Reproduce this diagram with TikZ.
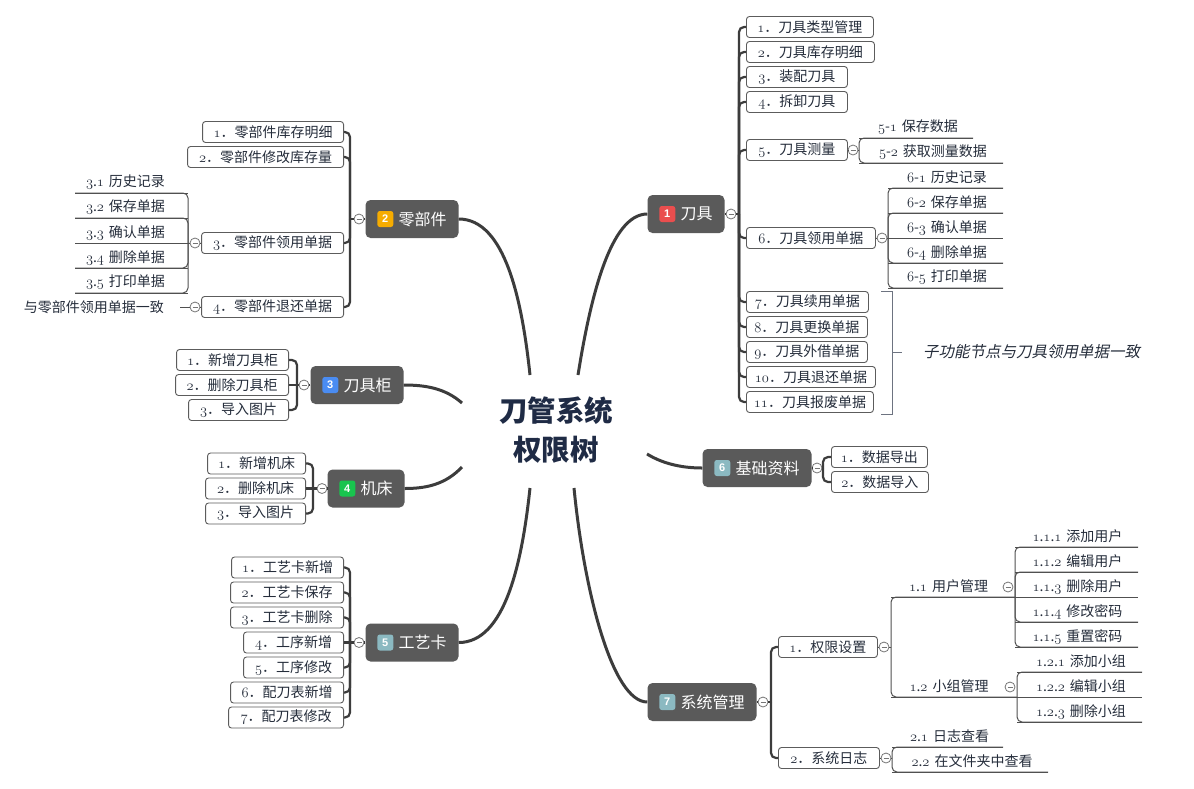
\documentclass[tikz,border=0pt]{standalone}
\usepackage{fontspec}
\setmainfont{Noto Sans CJK SC}
\newfontfamily\itfont{Noto Sans CJK SC}[FakeSlant=0.2]
\newfontfamily\badgefont{Liberation Sans}
\newcommand\osn[1]{{\usefont{OML}{cmm}{m}{it}#1}}
\definecolor{mainfill}{HTML}{5A5A5A}
\definecolor{linec}{HTML}{3C3C3C}
\definecolor{thinc}{HTML}{505050}
\definecolor{boxc}{HTML}{5C5C5C}
\definecolor{txt}{HTML}{252D3B}
\definecolor{navy}{HTML}{1F2B45}
\definecolor{bred}{HTML}{EA4E4E}
\definecolor{borange}{HTML}{F6AC00}
\definecolor{bblue}{HTML}{4A8CF2}
\definecolor{bgreen}{HTML}{18C44E}
\definecolor{bteal}{HTML}{8BB9C1}
\definecolor{circc}{HTML}{767676}
\definecolor{brk}{HTML}{6D7380}
\tikzset{
 topic/.style={fill=mainfill, rounded corners=5pt, text=white, font=\fontsize{16}{18}\selectfont, minimum height=38pt, inner xsep=12pt, inner ysep=0pt},
 badge/.style={fill=#1, rounded corners=2.5pt, minimum size=16pt, inner sep=0pt, text=white, font=\badgefont\bfseries\fontsize{11}{12}\selectfont},
 subbox/.style={draw=boxc, line width=0.9pt, fill=white, rounded corners=3pt, minimum height=21pt, inner xsep=4pt, inner ysep=0pt, text=txt, font=\fontsize{14}{16}\selectfont},
 ultext/.style={inner sep=0pt, text=txt, font=\fontsize{14}{16}\selectfont},
 ulline/.style={draw=thinc, line width=1pt},
 colbtn/.style={circle, draw=circc, fill=white, line width=0.8pt, minimum size=10pt, inner sep=0pt, path picture={\draw[circc, line width=0.8pt] ([xshift=2.5pt]path picture bounding box.west) -- ([xshift=-2.5pt]path picture bounding box.east);}},
 branch/.style={draw=linec, line width=3pt},
 lvlone/.style={draw=linec, line width=2.2pt, rounded corners=5pt},
 lvltwo/.style={draw=thinc, line width=1pt, rounded corners=5pt},
}
\newcommand\ultopic[6]{%
 \coordinate (#1w) at (#2,#4); \coordinate (#1e) at (#3,#4);
 \node[ultext] (#1) at (#5,#4-10.5) {#6};
 \draw[ulline] (#1w) -- (#1e);}
\begin{document}
\begin{tikzpicture}[x=1pt,y=-1pt]
\useasboundingbox (0,0) rectangle (1194,788);
\fill[white] (0,0) rectangle (1194,788);

% root
\node[align=center, text=navy, font=\bfseries\fontsize{28.5}{39}\selectfont] (root) at (556,430) {刀管系统\\权限树};

% main topics
\node[topic] (n1) at (686,214) {\hspace*{21pt}刀具};
\node[badge=bred] (b1) at ([xshift=20pt]n1.west) {1};
\node[topic] (n2) at (412,219) {\hspace*{21pt}零部件};
\node[badge=borange] (b2) at ([xshift=20pt]n2.west) {2};
\node[topic] (n3) at (357,385) {\hspace*{21pt}刀具柜};
\node[badge=bblue] (b3) at ([xshift=20pt]n3.west) {3};
\node[topic] (n4) at (366,488.5) {\hspace*{21pt}机床};
\node[badge=bgreen] (b4) at ([xshift=20pt]n4.west) {4};
\node[topic] (n5) at (412,642.5) {\hspace*{21pt}工艺卡};
\node[badge=bteal] (b5) at ([xshift=20pt]n5.west) {5};
\node[topic] (n6) at (757,468) {\hspace*{21pt}基础资料};
\node[badge=bteal] (b6) at ([xshift=20pt]n6.west) {6};
\node[topic] (n7) at (702,702) {\hspace*{21pt}系统管理};
\node[badge=bteal] (b7) at ([xshift=20pt]n7.west) {7};

% main curves
\coordinate (r1) at (578,375);
\coordinate (r2) at (530,375);
\coordinate (r3) at (462,403);
\coordinate (r4) at (462,467);
\coordinate (r5) at (530,488);
\coordinate (r6) at (647,454);
\coordinate (r7) at (574,488);
\draw[branch] (r1) .. controls (590,300) and (610,214) .. (n1.west);
\draw[branch] (r2) .. controls (522,300) and (505,219) .. (n2.east);
\draw[branch] (r3) .. controls (445,388) and (425,385) .. (n3.east);
\draw[branch] (r4) .. controls (445,485) and (425,488.5) .. (n4.east);
\draw[branch] (r5) .. controls (522,563) and (505,642.5) .. (n5.east);
\draw[branch] (r6) .. controls (665,465) and (685,468) .. (n6.west);
\draw[branch] (r7) .. controls (584,590) and (612,702) .. (n7.west);

% ===== 1 刀具 =====
\node[colbtn] (c1) at (731,214) {};
\coordinate (j1) at (739,214);
\draw[lvlone] (n1.east) -- (c1.west);
\draw[lvlone] (c1.east) -- (j1);
\node[subbox,anchor=west,minimum width=127pt] (a1) at (746,27) {\osn{1}．刀具类型管理};
\node[subbox,anchor=west,minimum width=128pt] (a2) at (746,52) {\osn{2}．刀具库存明细};
\node[subbox,anchor=west,minimum width=101pt] (a3) at (746,77) {\osn{3}．装配刀具};
\node[subbox,anchor=west,minimum width=101pt] (a4) at (746,102) {\osn{4}．拆卸刀具};
\node[subbox,anchor=west,minimum width=101pt] (a5) at (746,150) {\osn{5}．刀具测量};
\node[subbox,anchor=west,minimum width=129pt] (a6) at (746,238) {\osn{6}．刀具领用单据};
\node[subbox,anchor=west,minimum width=122pt] (a7) at (746,302) {\osn{7}．刀具续用单据};
\node[subbox,anchor=west,minimum width=121pt] (a8) at (746,327) {\osn{8}．刀具更换单据};
\node[subbox,anchor=west,minimum width=121pt] (a9) at (746,352) {\osn{9}．刀具外借单据};
\node[subbox,anchor=west,minimum width=129pt] (a10) at (746,377) {\osn{10}．刀具退还单据};
\node[subbox,anchor=west,minimum width=127pt] (a11) at (746,402) {\osn{11}．刀具报废单据};
\foreach \k in {1,...,11} \draw[lvlone] (j1) |- (a\k.west);

% 5 刀具测量
\node[colbtn] (c15) at (853,150) {};
\coordinate (j15) at (859,150);
\draw[lvltwo] (a5.east) -- (c15.west);
\draw[lvltwo] (c15.east) -- (j15);
\ultopic{u51}{859}{973}{138}{918}{\osn{5}-\osn{1}\hspace{5pt}保存数据}
\ultopic{u52}{859}{1003}{163}{933}{\osn{5}-\osn{2}\hspace{5pt}获取测量数据}
\draw[lvltwo] (j15) |- (u51e);
\draw[lvltwo] (j15) |- (u52e);

% 6 刀具领用单据
\node[colbtn] (c16) at (882,238) {};
\coordinate (j16) at (888,238);
\draw[lvltwo] (a6.east) -- (c16.west);
\draw[lvltwo] (c16.east) -- (j16);
\ultopic{u61}{888}{1003}{188}{947}{\osn{6}-\osn{1}\hspace{5pt}历史记录}
\ultopic{u62}{888}{1003}{213}{947}{\osn{6}-\osn{2}\hspace{5pt}保存单据}
\ultopic{u63}{888}{1003}{238}{947}{\osn{6}-\osn{3}\hspace{5pt}确认单据}
\ultopic{u64}{888}{1003}{263}{947}{\osn{6}-\osn{4}\hspace{5pt}删除单据}
\ultopic{u65}{888}{1003}{288}{947}{\osn{6}-\osn{5}\hspace{5pt}打印单据}
\draw[lvltwo] (j16) |- (u61e);
\draw[lvltwo] (j16) |- (u62e);
\draw[lvltwo] (j16) -- (u63e);
\draw[lvltwo] (j16) |- (u64e);
\draw[lvltwo] (j16) |- (u65e);

% summary bracket
\coordinate (bk1) at (881,291);
\coordinate (bk2) at (892,291);
\coordinate (bk3) at (892,414);
\coordinate (bk4) at (881,414);
\coordinate (bkm) at (892,352);
\draw[brk, line width=1pt] (bk1) -- (bk2) -- (bk3) -- (bk4);
\node[anchor=west, inner sep=0pt, text=txt, font=\itfont\fontsize{15.5}{17}\selectfont] (sumt) at (923,352) {子功能节点与刀具领用单据一致};
\draw[brk, line width=1pt] (bkm) -- ([xshift=-21pt]sumt.west);

% ===== 6 基础资料 =====
\node[colbtn] (c6) at (817,468) {};
\coordinate (j6) at (823,468);
\draw[lvlone] (n6.east) -- (c6.west);
\draw[lvlone] (c6.east) -- (j6);
\node[subbox,anchor=west,minimum width=96pt] (f1) at (831,457) {\osn{1}．数据导出};
\node[subbox,anchor=west,minimum width=97pt] (f2) at (831,482) {\osn{2}．数据导入};
\draw[lvlone] (j6) |- (f1.west);
\draw[lvlone] (j6) |- (f2.west);

% ===== 7 系统管理 =====
\node[colbtn] (c7) at (763,702) {};
\coordinate (j7) at (771,702);
\draw[lvlone] (n7.east) -- (c7.west);
\draw[lvlone] (c7.east) -- (j7);
\node[subbox,anchor=west,minimum width=99pt] (s1) at (778,647) {\osn{1}．权限设置};
\node[subbox,anchor=west,minimum width=101pt] (s2) at (778,758) {\osn{2}．系统日志};
\draw[lvlone] (j7) |- (s1.west);
\draw[lvlone] (j7) |- (s2.west);

\node[colbtn] (c71) at (884,647) {};
\coordinate (j71) at (891,647);
\draw[lvltwo] (s1.east) -- (c71.west);
\draw[lvltwo] (c71.east) -- (j71);
\ultopic{u11}{891}{1015}{597}{948.5}{\osn{1}.\osn{1}\hspace{5pt}用户管理}
\ultopic{u12}{891}{1017}{697}{949}{\osn{1}.\osn{2}\hspace{5pt}小组管理}
\draw[lvltwo] (j71) |- (u11e);
\draw[lvltwo] (j71) |- (u12e);
\node[colbtn] (cu11) at (1008,587) {};
\node[colbtn] (cu12) at (1010,687) {};

\ultopic{u111}{1015}{1138}{547}{1077.5}{\osn{1}.\osn{1}.\osn{1}\hspace{5pt}添加用户}
\ultopic{u112}{1015}{1138}{572}{1077.5}{\osn{1}.\osn{1}.\osn{2}\hspace{5pt}编辑用户}
\ultopic{u113}{1015}{1138}{597}{1077.5}{\osn{1}.\osn{1}.\osn{3}\hspace{5pt}删除用户}
\ultopic{u114}{1015}{1138}{622}{1077.5}{\osn{1}.\osn{1}.\osn{4}\hspace{5pt}修改密码}
\ultopic{u115}{1015}{1138}{647}{1077.5}{\osn{1}.\osn{1}.\osn{5}\hspace{5pt}重置密码}
\draw[lvltwo] (u11e) |- (u111e);
\draw[lvltwo] (u11e) |- (u112e);
\draw[lvltwo] (u11e) -- (u113e);
\draw[lvltwo] (u11e) |- (u114e);
\draw[lvltwo] (u11e) |- (u115e);

\ultopic{u121}{1017}{1142}{672}{1081}{\osn{1}.\osn{2}.\osn{1}\hspace{5pt}添加小组}
\ultopic{u122}{1017}{1142}{697}{1081}{\osn{1}.\osn{2}.\osn{2}\hspace{5pt}编辑小组}
\ultopic{u123}{1017}{1142}{722}{1081}{\osn{1}.\osn{2}.\osn{3}\hspace{5pt}删除小组}
\draw[lvltwo] (u12e) |- (u121e);
\draw[lvltwo] (u12e) -- (u122e);
\draw[lvltwo] (u12e) |- (u123e);

\node[colbtn] (c72) at (886,758) {};
\coordinate (j72) at (892,758);
\draw[lvltwo] (s2.east) -- (c72.west);
\draw[lvltwo] (c72.east) -- (j72);
\ultopic{u21}{892}{1003}{747}{949.5}{\osn{2}.\osn{1}\hspace{5pt}日志查看}
\ultopic{u22}{892}{1048}{772}{972}{\osn{2}.\osn{2}\hspace{5pt}在文件夹中查看}
\draw[lvltwo] (j72) |- (u21e);
\draw[lvltwo] (j72) |- (u22e);

% ===== 2 零部件 =====
\node[colbtn] (c2) at (359,219) {};
\coordinate (j2) at (350,219);
\draw[lvlone] (n2.west) -- (c2.east);
\draw[lvlone] (c2.west) -- (j2);
\node[subbox,anchor=east,minimum width=141pt] (z1) at (344,132) {\osn{1}．零部件库存明细};
\node[subbox,anchor=east,minimum width=156pt] (z2) at (344,157) {\osn{2}．零部件修改库存量};
\node[subbox,anchor=east,minimum width=142pt] (z3) at (344,243) {\osn{3}．零部件领用单据};
\node[subbox,anchor=east,minimum width=142pt] (z4) at (344,307) {\osn{4}．零部件退还单据};
\foreach \k in {1,...,4} \draw[lvlone] (j2) |- (z\k.east);

\node[colbtn] (cz3) at (195,243) {};
\coordinate (jz3) at (188,243);
\draw[lvltwo] (z3.west) -- (cz3.east);
\draw[lvltwo] (cz3.west) -- (jz3);
\ultopic{u31}{75}{188}{193}{125.5}{\osn{3}.\osn{1}\hspace{5pt}历史记录}
\ultopic{u32}{75}{188}{218}{125.5}{\osn{3}.\osn{2}\hspace{5pt}保存单据}
\ultopic{u33}{75}{188}{243}{125.5}{\osn{3}.\osn{3}\hspace{5pt}确认单据}
\ultopic{u34}{75}{188}{268}{125.5}{\osn{3}.\osn{4}\hspace{5pt}删除单据}
\ultopic{u35}{75}{188}{293}{125.5}{\osn{3}.\osn{5}\hspace{5pt}打印单据}
\draw[lvltwo] (jz3) |- (u31w);
\draw[lvltwo] (jz3) |- (u32w);
\draw[lvltwo] (jz3) -- (u33w);
\draw[lvltwo] (jz3) |- (u34w);
\draw[lvltwo] (jz3) |- (u35w);

\node[colbtn] (cz4) at (195,307) {};
\draw[lvltwo] (z4.west) -- (cz4.east);
\node[anchor=east, inner xsep=16pt, inner ysep=0pt, text=txt, font=\fontsize{14}{16}\selectfont] (tz4) at (180,307) {与零部件领用单据一致};
\draw[lvltwo] (cz4.west) -- (tz4.east);

% ===== 3 刀具柜 =====
\node[colbtn] (c3) at (304,385) {};
\coordinate (j3) at (297,385);
\draw[lvlone] (n3.west) -- (c3.east);
\draw[lvlone] (c3.west) -- (j3);
\node[subbox,anchor=east,minimum width=112pt] (g1) at (289,360) {\osn{1}．新增刀具柜};
\node[subbox,anchor=east,minimum width=113pt] (g2) at (289,385) {\osn{2}．删除刀具柜};
\node[subbox,anchor=east,minimum width=100pt] (g3) at (289,410) {\osn{3}．导入图片};
\draw[lvlone] (j3) |- (g1.east);
\draw[lvlone] (j3) -- (g2.east);
\draw[lvlone] (j3) |- (g3.east);

% ===== 4 机床 =====
\node[colbtn] (c4) at (322,488.5) {};
\coordinate (j4) at (313,488.5);
\draw[lvlone] (n4.west) -- (c4.east);
\draw[lvlone] (c4.west) -- (j4);
\node[subbox,anchor=east,minimum width=98pt] (m1) at (306,463.5) {\osn{1}．新增机床};
\node[subbox,anchor=east,minimum width=100pt] (m2) at (306,488.5) {\osn{2}．删除机床};
\node[subbox,anchor=east,minimum width=100pt] (m3) at (306,513.5) {\osn{3}．导入图片};
\draw[lvlone] (j4) |- (m1.east);
\draw[lvlone] (j4) -- (m2.east);
\draw[lvlone] (j4) |- (m3.east);

% ===== 5 工艺卡 =====
\node[colbtn] (c5) at (359,642.5) {};
\coordinate (j5) at (350,642.5);
\draw[lvlone] (n5.west) -- (c5.east);
\draw[lvlone] (c5.west) -- (j5);
\node[subbox,anchor=east,minimum width=112pt] (k1) at (344,567.5) {\osn{1}．工艺卡新增};
\node[subbox,anchor=east,minimum width=113pt] (k2) at (344,592.5) {\osn{2}．工艺卡保存};
\node[subbox,anchor=east,minimum width=113pt] (k3) at (344,617.5) {\osn{3}．工艺卡删除};
\node[subbox,anchor=east,minimum width=100pt] (k4) at (344,642.5) {\osn{4}．工序新增};
\node[subbox,anchor=east,minimum width=100pt] (k5) at (344,667.5) {\osn{5}．工序修改};
\node[subbox,anchor=east,minimum width=113pt] (k6) at (344,692.5) {\osn{6}．配刀表新增};
\node[subbox,anchor=east,minimum width=115pt] (k7) at (344,717.5) {\osn{7}．配刀表修改};
\draw[lvlone] (j5) |- (k1.east);
\draw[lvlone] (j5) |- (k2.east);
\draw[lvlone] (j5) |- (k3.east);
\draw[lvlone] (j5) -- (k4.east);
\draw[lvlone] (j5) |- (k5.east);
\draw[lvlone] (j5) |- (k6.east);
\draw[lvlone] (j5) |- (k7.east);
\end{tikzpicture}
\end{document}
